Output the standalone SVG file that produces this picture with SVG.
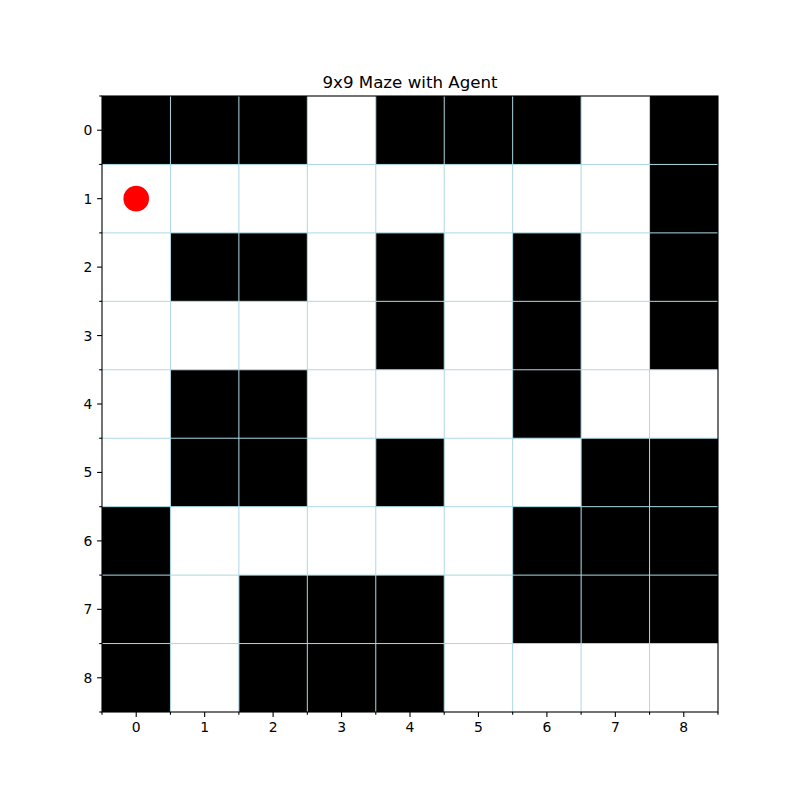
<svg xmlns="http://www.w3.org/2000/svg" width="800" height="800" viewBox="0 0 800 800">
<style>
text{font-family:"DejaVu Sans",sans-serif;fill:#000}
.tl{font-size:13.9px}
.yl{text-anchor:end}
.xl{text-anchor:middle}
.grid line{stroke:#add8e6;stroke-width:1}
.ticks line{stroke:#000;stroke-width:1.1}
</style>
<rect width="800" height="800" fill="#fff"/>
<text x="410" y="88" font-size="16.67" text-anchor="middle">9x9 Maze with Agent</text>
<g id="maze" transform="translate(102,96) scale(68.4444)" fill="#000">
<rect x="0" y="0" width="9" height="9" fill="#fff"/>
<rect x="0" y="0" width="3" height="1"/><rect x="4" y="0" width="3" height="1"/><rect x="8" y="0" width="1" height="4"/>
<rect x="1" y="2" width="2" height="1"/><rect x="4" y="2" width="1" height="2"/><rect x="6" y="2" width="1" height="3"/>
<rect x="1" y="4" width="2" height="2"/><rect x="4" y="5" width="1" height="1"/><rect x="7" y="5" width="2" height="3"/>
<rect x="0" y="6" width="1" height="3"/><rect x="6" y="6" width="1" height="2"/>
<rect x="2" y="7" width="3" height="2"/>
</g>
<g id="connectors" class="grid">
<line x1="170.44" y1="96" x2="170.44" y2="712"/><line x1="238.89" y1="96" x2="238.89" y2="712"/><line x1="307.33" y1="96" x2="307.33" y2="712"/><line x1="375.78" y1="96" x2="375.78" y2="712"/><line x1="444.22" y1="96" x2="444.22" y2="712"/><line x1="512.67" y1="96" x2="512.67" y2="712"/><line x1="581.11" y1="96" x2="581.11" y2="712"/><line x1="649.56" y1="96" x2="649.56" y2="712"/>
<line x1="102" y1="164.44" x2="718" y2="164.44"/><line x1="102" y1="232.89" x2="718" y2="232.89"/><line x1="102" y1="301.33" x2="718" y2="301.33"/><line x1="102" y1="369.78" x2="718" y2="369.78"/><line x1="102" y1="438.22" x2="718" y2="438.22"/><line x1="102" y1="506.67" x2="718" y2="506.67"/><line x1="102" y1="575.11" x2="718" y2="575.11"/><line x1="102" y1="643.56" x2="718" y2="643.56"/>
</g>
<g id="agent"><circle cx="136.22" cy="198.67" r="12.8" fill="#ff0000"/></g>
<rect x="102" y="96" width="616" height="616" fill="none" stroke="#000" stroke-width="1.1"/>
<g id="axis-ticks" class="ticks">
<line x1="136.22" y1="712" x2="136.22" y2="716.9"/><line x1="204.67" y1="712" x2="204.67" y2="716.9"/><line x1="273.11" y1="712" x2="273.11" y2="716.9"/><line x1="341.56" y1="712" x2="341.56" y2="716.9"/><line x1="410" y1="712" x2="410" y2="716.9"/><line x1="478.44" y1="712" x2="478.44" y2="716.9"/><line x1="546.89" y1="712" x2="546.89" y2="716.9"/><line x1="615.33" y1="712" x2="615.33" y2="716.9"/><line x1="683.78" y1="712" x2="683.78" y2="716.9"/>
<line x1="102" y1="712" x2="102" y2="714.8"/><line x1="170.44" y1="712" x2="170.44" y2="714.8"/><line x1="238.89" y1="712" x2="238.89" y2="714.8"/><line x1="307.33" y1="712" x2="307.33" y2="714.8"/><line x1="375.78" y1="712" x2="375.78" y2="714.8"/><line x1="444.22" y1="712" x2="444.22" y2="714.8"/><line x1="512.67" y1="712" x2="512.67" y2="714.8"/><line x1="581.11" y1="712" x2="581.11" y2="714.8"/><line x1="649.56" y1="712" x2="649.56" y2="714.8"/><line x1="718" y1="712" x2="718" y2="714.8"/>
<line x1="102" y1="130.22" x2="97.1" y2="130.22"/><line x1="102" y1="198.67" x2="97.1" y2="198.67"/><line x1="102" y1="267.11" x2="97.1" y2="267.11"/><line x1="102" y1="335.56" x2="97.1" y2="335.56"/><line x1="102" y1="404" x2="97.1" y2="404"/><line x1="102" y1="472.44" x2="97.1" y2="472.44"/><line x1="102" y1="540.89" x2="97.1" y2="540.89"/><line x1="102" y1="609.33" x2="97.1" y2="609.33"/><line x1="102" y1="677.78" x2="97.1" y2="677.78"/>
<line x1="102" y1="96" x2="99.2" y2="96"/><line x1="102" y1="164.44" x2="99.2" y2="164.44"/><line x1="102" y1="232.89" x2="99.2" y2="232.89"/><line x1="102" y1="301.33" x2="99.2" y2="301.33"/><line x1="102" y1="369.78" x2="99.2" y2="369.78"/><line x1="102" y1="438.22" x2="99.2" y2="438.22"/><line x1="102" y1="506.67" x2="99.2" y2="506.67"/><line x1="102" y1="575.11" x2="99.2" y2="575.11"/><line x1="102" y1="643.56" x2="99.2" y2="643.56"/><line x1="102" y1="712" x2="99.2" y2="712"/>
</g>
<g id="x-labels" class="tl xl">
<text x="136.22" y="732">0</text><text x="204.67" y="732">1</text><text x="273.11" y="732">2</text><text x="341.56" y="732">3</text><text x="410" y="732">4</text><text x="478.44" y="732">5</text><text x="546.89" y="732">6</text><text x="615.33" y="732">7</text><text x="683.78" y="732">8</text>
</g>
<g id="y-labels" class="tl yl">
<text x="92.3" y="135.3">0</text><text x="92.3" y="203.7">1</text><text x="92.3" y="272.1">2</text><text x="92.3" y="340.6">3</text><text x="92.3" y="409">4</text><text x="92.3" y="477.4">5</text><text x="92.3" y="545.9">6</text><text x="92.3" y="614.3">7</text><text x="92.3" y="682.8">8</text>
</g>
</svg>
